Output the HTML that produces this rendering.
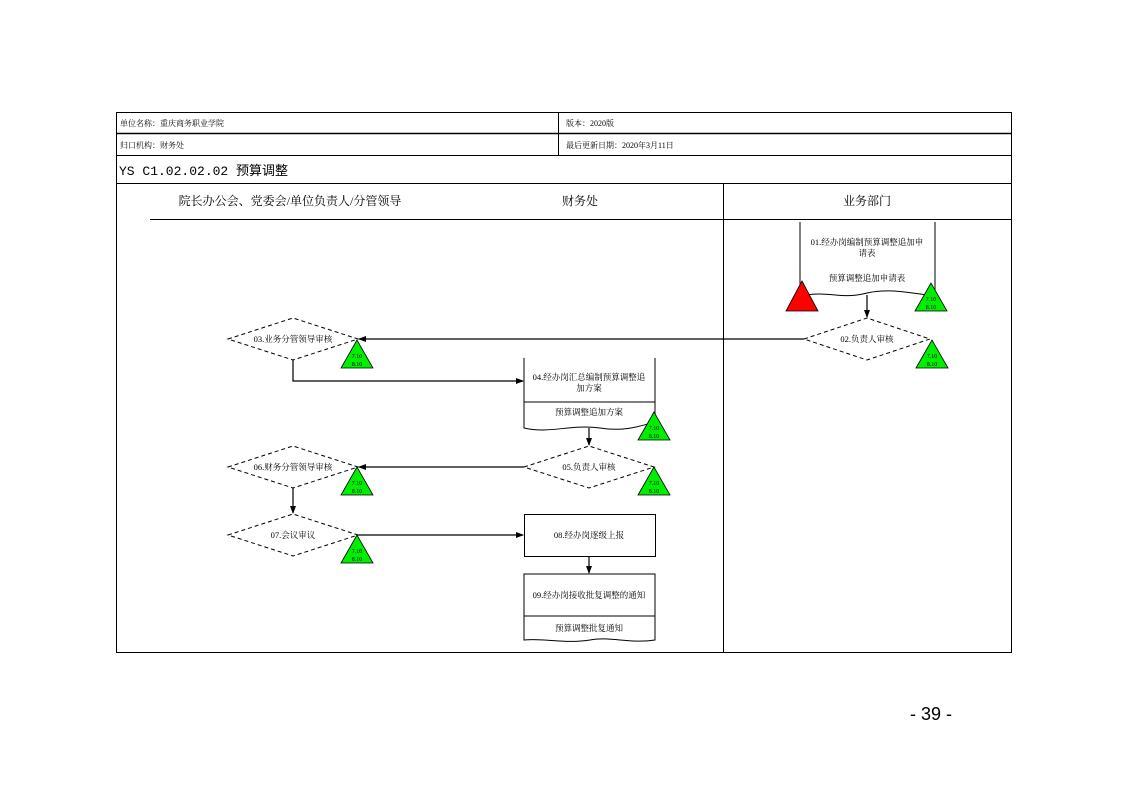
<!DOCTYPE html>
<html><head><meta charset="utf-8"><style>
html,body{margin:0;padding:0;background:#fff;}
svg text{font-family:"Liberation Serif","Noto Serif CJK SC",serif;fill:#000;}
</style></head><body>
<svg width="1123" height="794" viewBox="0 0 1123 794" xmlns="http://www.w3.org/2000/svg">
<defs><marker id="a" markerWidth="8" markerHeight="8" refX="7" refY="4" orient="auto" markerUnits="userSpaceOnUse"><path d="M0,1 L8,4 L0,7 Z" fill="#000"/></marker></defs>
<g stroke="#000" fill="none">
<rect x="116.5" y="112.5" width="895" height="540" stroke-width="1"/>
<line x1="116" y1="133.5" x2="1011" y2="133.5" stroke-width="1.5"/>
<line x1="116" y1="155.5" x2="1011" y2="155.5"/>
<line x1="116" y1="183.5" x2="1011" y2="183.5"/>
<line x1="150" y1="219.5" x2="1011" y2="219.5"/>
<line x1="558.5" y1="112" x2="558.5" y2="155"/>
<line x1="723.5" y1="183" x2="723.5" y2="652"/>
</g>
<text x="120" y="126" font-size="8">单位名称：重庆商务职业学院</text>
<text x="566" y="126" font-size="8">版本：2020版</text>
<text x="120" y="148" font-size="8">归口机构：财务处</text>
<text x="566" y="148" font-size="8">最后更新日期：2020年3月11日</text>
<text x="119" y="175" font-size="13" style="font-family:'Liberation Mono','Noto Sans CJK SC',monospace">YS C1.02.02.02 预算调整</text>
<text x="290" y="205" font-size="12" text-anchor="middle" fill="#444">院长办公会、党委会/单位负责人/分管领导</text>
<text x="580" y="205" font-size="12" text-anchor="middle" fill="#444">财务处</text>
<text x="867" y="205" font-size="12" text-anchor="middle" fill="#444">业务部门</text>

<g stroke="#000" fill="#fff" stroke-width="1">
<path d="M800,222 V300 M935,222 V296" fill="none"/>
<path d="M800,296 C830,290 840,300 867,293 C890,288 910,293 935,296" fill="none"/>
<path d="M524,358 V428 C550,434 570,424 600,428 C625,432 640,426 655,422 V358 M524,402 H655" fill="none"/>
<rect x="524.5" y="514.5" width="131" height="42"/>
<path d="M524,574 H655 V640 C630,644 610,636 590,640 C565,644 545,638 524,640 Z M524,616 H655"/>
</g>
<g stroke="#000" fill="#fff" stroke-dasharray="4,3">
<polygon points="804,339 867,318 930,339 867,360"/>
<polygon points="228,339 293,318 358,339 293,360"/>
<polygon points="524,467 589,446 654,467 589,488"/>
<polygon points="228,467 293,446 358,467 293,488"/>
<polygon points="228,535 293,514 358,535 293,556"/>
</g>
<g stroke="#000" fill="none" stroke-width="1.2" marker-end="url(#a)">
<line x1="867" y1="295" x2="867" y2="317"/>
<line x1="804" y1="339" x2="359" y2="339"/>
<polyline points="293,360 293,381 523,381"/>
<line x1="589" y1="428" x2="589" y2="445"/>
<line x1="524" y1="467" x2="359" y2="467"/>
<line x1="293" y1="488" x2="293" y2="513"/>
<line x1="358" y1="535" x2="523" y2="535"/>
<line x1="589" y1="556" x2="589" y2="573"/>
</g>
<g font-size="8.5" text-anchor="middle">
<text x="867" y="245">01.经办岗编制预算调整追加申</text>
<text x="867" y="256">请表</text>
<text x="867" y="281">预算调整追加申请表</text>
<text x="867" y="342">02.负责人审核</text>
<text x="293" y="342">03.业务分管领导审核</text>
<text x="589" y="380">04.经办岗汇总编制预算调整追</text>
<text x="589" y="391">加方案</text>
<text x="589" y="415">预算调整追加方案</text>
<text x="589" y="470">05.负责人审核</text>
<text x="293" y="470">06.财务分管领导审核</text>
<text x="293" y="538">07.会议审议</text>
<text x="589" y="538">08.经办岗逐级上报</text>
<text x="589" y="598">09.经办岗接收批复调整的通知</text>
<text x="589" y="631">预算调整批复通知</text>
</g>
<g stroke="#000" stroke-width="0.8">
<polygon points="802,281 786,311 818,311" fill="#f00"/>
<polygon points="931,283 915,311 947,311" fill="#0e0"/>
<polygon points="932,340 916,368 948,368" fill="#0e0"/>
<polygon points="357,340 341,368 373,368" fill="#0e0"/>
<polygon points="654,412 638,440 670,440" fill="#0e0"/>
<polygon points="654,467 638,495 670,495" fill="#0e0"/>
<polygon points="357,467 341,495 373,495" fill="#0e0"/>
<polygon points="357,535 341,563 373,563" fill="#0e0"/>
</g>
<g font-size="6" text-anchor="middle" fill="#060">
<text x="931" y="301">7.10</text><text x="931" y="309">8.10</text>
<text x="932" y="358">7.10</text><text x="932" y="366">8.10</text>
<text x="357" y="358">7.10</text><text x="357" y="366">8.10</text>
<text x="654" y="430">7.10</text><text x="654" y="438">8.10</text>
<text x="654" y="485">7.10</text><text x="654" y="493">8.10</text>
<text x="357" y="485">7.10</text><text x="357" y="493">8.10</text>
<text x="357" y="553">7.10</text><text x="357" y="561">8.10</text>
</g>
<text x="931" y="720" font-size="18" text-anchor="middle" style="font-family:'Liberation Sans',sans-serif">- 39 -</text>
</svg>
</body></html>
